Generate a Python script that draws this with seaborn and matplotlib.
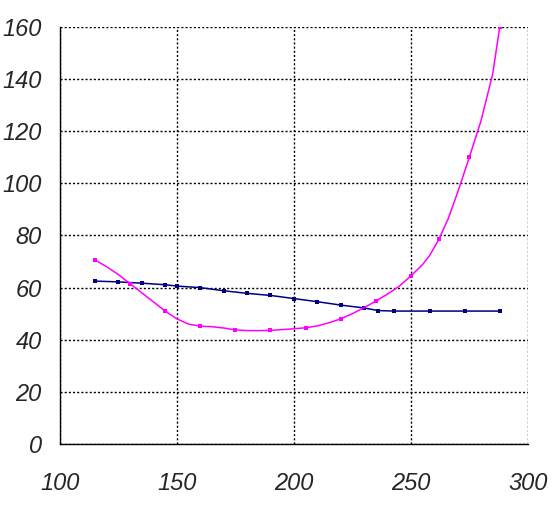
import pandas as pd
import seaborn as sns
import matplotlib.pyplot as plt

# data
blue_x = [115, 125, 135, 145, 150, 160, 170, 180, 190, 200, 210, 220, 230, 236, 243, 258, 273, 288]
blue_y = [62.5, 62.2, 61.7, 61.1, 60.6, 60.0, 58.8, 57.8, 57.0, 55.8, 54.6, 53.3, 52.2, 51.2, 51, 51, 51, 51]

pink_x = [115, 120, 125, 130, 135, 140, 145, 150, 155, 160, 165, 170, 175, 180, 185, 190, 195,
          200, 205, 210, 215, 220, 225, 230, 235, 240, 245, 250, 255, 258, 262, 266, 270, 275, 280, 285, 288]
pink_y = [70.6, 68, 65, 61.5, 58, 54.5, 51, 48, 46, 45.2, 45, 44.5, 43.8, 43.5, 43.5, 43.6, 43.9,
          44.2, 44.6, 45.3, 46.5, 48, 50, 52.3, 54.8, 57.5, 60.5, 64.5, 68.8, 72.3, 78.5, 86.5, 96.5, 110, 124, 142, 160]

x_ticks = [100, 150, 200, 250, 300]
y_ticks = [0, 20, 40, 60, 80, 100, 120, 140, 160]

blue_df = pd.DataFrame({"x": blue_x, "y": blue_y})
pink_df = pd.DataFrame({"x": pink_x, "y": pink_y})

sns.set_style("white")
plt.rcParams['font.family'] = ['Liberation Sans', 'DejaVu Sans']

fig = plt.figure(figsize=(5.55, 5.09), dpi=100)
ax = fig.add_axes([0.108, 0.1277, 0.843, 0.8193])

sns.lineplot(data=blue_df, x="x", y="y", color="#000080", linewidth=1.1,
             marker="s", markersize=2.5, markeredgewidth=0, ax=ax)
sns.lineplot(data=pink_df, x="x", y="y", color="#FF00FF", linewidth=1.1,
             marker="s", markersize=2.5, markeredgewidth=0, markevery=3, ax=ax)

ax.set_xlim(100, 300)
ax.set_ylim(0, 160)
ax.set_xticks(x_ticks)
ax.set_yticks(y_ticks)
ax.set_xlabel("")
ax.set_ylabel("")

ax.grid(True, color="black", linestyle=(0, (1.5, 1.5)), linewidth=1)
ax.set_axisbelow(True)
for side in ["top", "right"]:
    ax.spines[side].set_visible(False)
for side in ["left", "bottom"]:
    ax.spines[side].set_color("black")
    ax.spines[side].set_linewidth(1)

ax.tick_params(axis="x", direction="out", length=6, width=1, color="black", pad=14)
ax.tick_params(axis="y", direction="out", length=6, width=1, color="black", pad=7)
for lab in ax.get_xticklabels() + ax.get_yticklabels():
    lab.set_fontstyle("italic")
    lab.set_fontsize(17)

fig.savefig("out.png", dpi=100)
